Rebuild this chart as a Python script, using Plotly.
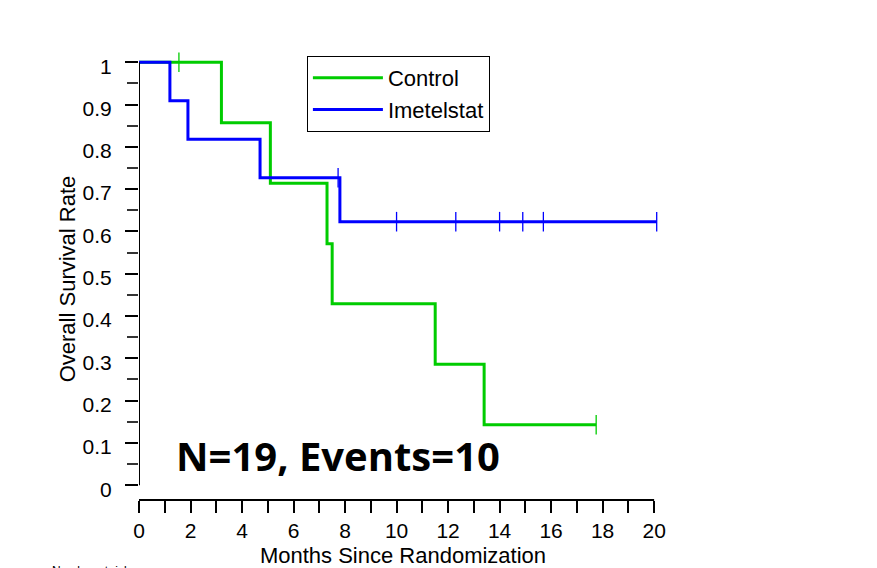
import plotly.graph_objects as go

# Kaplan-Meier step data (time in months, survival)
control_t = [0, 3.2, 5.1, 7.3, 7.5, 11.5, 13.4, 17.75]
control_s = [1.0, 0.857, 0.714, 0.571, 0.429, 0.286, 0.143, 0.143]
control_cens_t = [1.55, 17.75]
control_cens_s = [1.0, 0.143]

imet_t = [0, 1.2, 1.9, 4.7, 7.8, 20.1]
imet_s = [1.0, 0.909, 0.818, 0.727, 0.623, 0.623]
imet_cens_t = [7.73, 10.0, 12.3, 14.0, 14.9, 15.7, 20.1]
imet_cens_s = [0.727, 0.623, 0.623, 0.623, 0.623, 0.623, 0.623]

x_ticks = list(range(0, 21, 2))
y_ticks = [round(i * 0.1, 1) for i in range(11)]
y_labels = ["0"] + [f"{v:.1f}" for v in y_ticks[1:-1]] + ["1"]

GREEN = "#00cc00"
BLUE = "#0000ff"
FONT = "Liberation Sans, Arial, sans-serif"

fig = go.Figure()
fig.add_trace(go.Scatter(x=control_t, y=control_s, mode="lines", line=dict(color=GREEN, width=3, shape="hv"),
                         name="Control"))
fig.add_trace(go.Scatter(x=imet_t, y=imet_s, mode="lines", line=dict(color=BLUE, width=3, shape="hv"),
                         name="Imetelstat"))
fig.add_trace(go.Scatter(x=control_cens_t, y=control_cens_s, mode="markers", showlegend=False,
                         marker=dict(symbol="line-ns", size=14, color=GREEN, line=dict(color=GREEN, width=1.3)),
                         cliponaxis=False))
fig.add_trace(go.Scatter(x=imet_cens_t, y=imet_cens_s, mode="markers", showlegend=False,
                         marker=dict(symbol="line-ns", size=14, color=BLUE, line=dict(color=BLUE, width=1.3)),
                         cliponaxis=False))

# axis lines
fig.add_shape(type="line", xref="x", yref="y", x0=0, x1=0, y0=0, y1=1, line=dict(color="black", width=2))
fig.add_shape(type="line", xref="x", yref="paper", x0=0, x1=20, y0=0, y1=0, line=dict(color="black", width=2))

fig.add_annotation(text="<b>N=19, Events=10</b>", x=7.71, y=0.07, xref="x", yref="y", showarrow=False,
                   font=dict(family="Open Sans, sans-serif", size=40, color="black"))
fig.add_annotation(text="Number at risk", x=-0.169, y=-0.14, xref="x domain", yref="y domain", showarrow=False,
                   xanchor="left", yanchor="top", font=dict(family=FONT, size=12, color="black"))

fig.update_layout(
    width=877, height=568,
    margin=dict(l=131, r=218, t=50, b=73),
    plot_bgcolor="white", paper_bgcolor="white",
    font=dict(family=FONT, size=22, color="black"),
    showlegend=True,
    legend=dict(
        x=0.318, y=1.0045, xanchor="left", yanchor="top",
        bordercolor="black", borderwidth=1, bgcolor="white",
        font=dict(family=FONT, size=22), itemwidth=70, tracegroupgap=0,
    ),
)
fig.update_xaxes(range=[0, 20.5], showgrid=False, zeroline=False, showline=False,
                 tickmode="array", tickvals=x_ticks, ticktext=[str(v) for v in x_ticks],
                 ticks="outside", ticklen=12, tickwidth=2, tickcolor="black",
                 minor=dict(dtick=1, tick0=0, ticks="outside", ticklen=12, tickwidth=2, tickcolor="black"),
                 ticklabelstandoff=0,
                 title=dict(text="Months Since Randomization", standoff=6, font=dict(size=22)),
                 tickfont=dict(size=21))
fig.update_yaxes(range=[-0.035, 1.01], showgrid=False, zeroline=False, showline=False,
                 tickmode="array", tickvals=y_ticks, ticktext=y_labels,
                 ticks="outside", ticklen=13, tickwidth=2, tickcolor="black",
                 minor=dict(dtick=0.05, tick0=0, ticks="outside", ticklen=11, tickwidth=1.5, tickcolor="#333"),
                 ticklabelstandoff=9, ticklabelshift=4,
                 title=dict(text="Overall Survival Rate", standoff=0, font=dict(size=22)),
                 tickfont=dict(size=21))

fig.write_html("out.html")
